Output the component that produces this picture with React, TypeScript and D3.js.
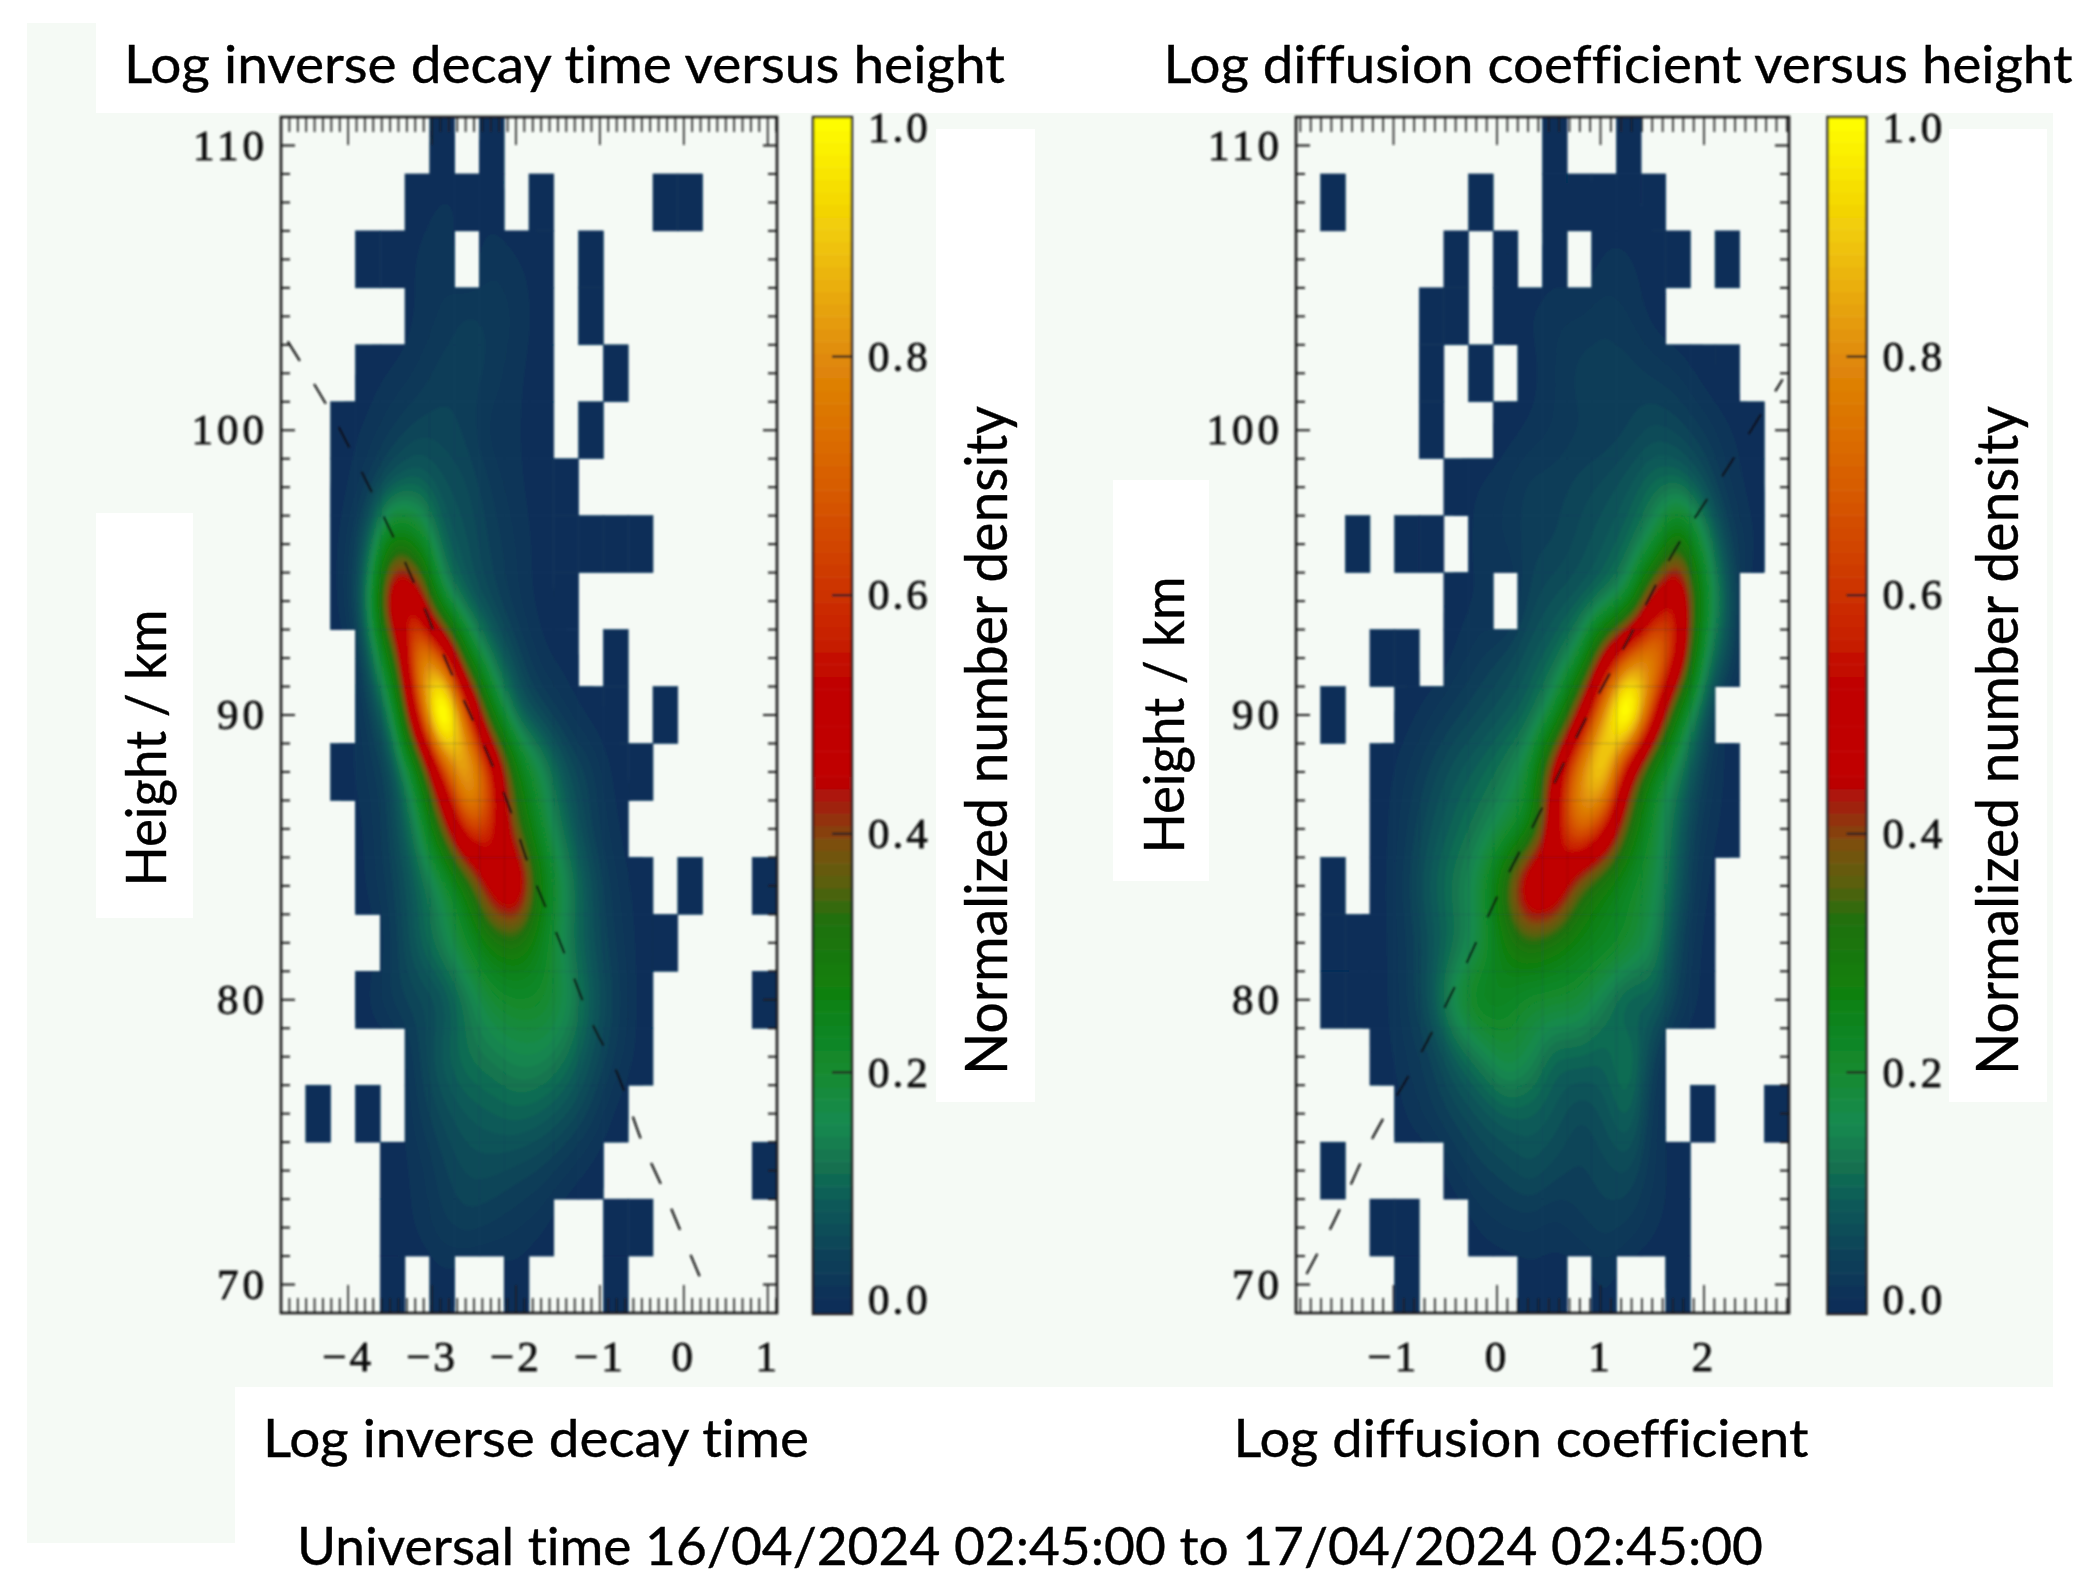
import React from "react";
import * as d3 from "d3";

const heightTicks = [70, 80, 90, 100, 110];
const decayTicks = [-4, -3, -2, -1, 0, 1];
const diffusionTicks = [-1, 0, 1, 2];
const barTicks = [0, 0.2, 0.4, 0.6, 0.8, 1];

const decayMask = [
  "......#.#...........",
  ".....####.#....##...",
  "...####.###.#.......",
  ".....######.#.......",
  "...########..#......",
  "..#########.#.......",
  "..##########........",
  "..#############.....",
  "..##########........",
  "...#########.#......",
  "...###########.#....",
  "..#############.....",
  "...###########......",
  "...############.#..#",
  "....############....",
  "...############....#",
  ".....##########.....",
  ".#.#.#########......",
  "....#########......#",
  "....#######..##.....",
  "....#.#..#...#......",
];

const diffusionMask = [
  "..........#..#......",
  ".#.....#..#####.....",
  "......#.#.#.####.#..",
  ".....##.#######.....",
  ".....#.#.#########..",
  ".....#..###########.",
  "......#############.",
  "..#.##.############.",
  "......##.#########..",
  "...##.############..",
  ".#..#############...",
  "...###############..",
  "...###############..",
  ".#.##############...",
  ".################...",
  ".################...",
  "...############.....",
  "....###########.#..#",
  ".#....##########....",
  "...##..#########....",
  "....#....##.#..#....",
];

const decayDensity = [
  [0,0,0,0,0,0,.01,0,.01,0,0,0,0,0,0,0,0,0,0,0],
  [0,0,0,0,0,.01,.02,.02,.01,0,0,0,0,0,0,0,0,0,0,0],
  [0,0,0,0,.01,.02,.03,0,.03,.02,.01,0,0,0,0,0,0,0,0,0],
  [0,0,0,0,0,.02,.03,.05,.04,.03,.01,0,0,0,0,0,0,0,0,0],
  [0,0,0,.01,.02,.03,.05,.05,.04,.02,.01,0,0,0,0,0,0,0,0,0],
  [0,0,.01,.02,.04,.06,.06,.05,.02,.02,.01,0,0,0,0,0,0,0,0,0],
  [0,0,.01,.04,.09,.11,.08,.07,.04,.02,.01,0,0,0,0,0,0,0,0,0],
  [0,0,.02,.09,.32,.26,.1,.08,.05,.03,.01,0,0,0,0,0,0,0,0,0],
  [0,0,.02,.12,.6,.54,.17,.09,.06,.03,.01,0,0,0,0,0,0,0,0,0],
  [0,0,0,.07,.3,.76,.68,.26,.12,.06,.02,.01,0,0,0,0,0,0,0,0],
  [0,0,0,.04,.13,.6,1,.66,.26,.1,.06,.03,.01,0,0,0,0,0,0,0],
  [0,0,.01,.03,.06,.22,.6,.8,.62,.28,.17,.08,.05,.01,0,0,0,0,0,0],
  [0,0,0,.02,.06,.14,.36,.64,.6,.36,.2,.11,.05,.02,0,0,0,0,0,0],
  [0,0,0,.02,.05,.1,.16,.28,.5,.58,.28,.16,.08,.03,.01,0,0,0,0,0],
  [0,0,0,0,.04,.1,.15,.22,.29,.31,.25,.14,.08,.04,.01,0,0,0,0,0],
  [0,0,0,.02,.05,.06,.07,.13,.2,.22,.22,.18,.1,.05,.01,0,0,0,0,0],
  [0,0,0,0,0,.05,.1,.13,.14,.16,.16,.13,.08,.04,.01,0,0,0,0,0],
  [0,0,0,0,0,.04,.07,.09,.1,.11,.1,.08,.05,.01,0,0,0,0,0,0],
  [0,0,0,0,.01,.02,.05,.07,.07,.06,.05,.03,.01,0,0,0,0,0,0,0],
  [0,0,0,0,.01,.02,.04,.05,.04,.03,.02,0,0,.01,0,0,0,0,0,0],
  [0,0,0,0,0,0,.01,0,0,.01,0,0,0,0,0,0,0,0,0,0],
];

const diffusionDensity = [
  [0,0,0,0,0,0,0,0,0,0,0,0,0,0,0,0,0,0,0,0],
  [0,0,0,0,0,0,0,0,0,0,.01,.01,.01,.01,0,0,0,0,0,0],
  [0,0,0,0,0,0,0,0,.01,0,.01,0,.02,.02,.01,0,0,0,0,0],
  [0,0,0,0,0,0,.01,0,.01,.02,.03,.03,.04,.03,.01,0,0,0,0,0],
  [0,0,0,0,0,0,0,0,0,.01,.03,.05,.05,.05,.04,.03,.01,0,0,0],
  [0,0,0,0,0,0,0,0,.01,.02,.03,.04,.04,.05,.07,.06,.04,.02,.01,0],
  [0,0,0,0,0,0,.01,.02,.03,.05,.05,.06,.07,.09,.12,.12,.08,.03,.01,0],
  [0,0,0,0,0,0,0,.03,.03,.05,.05,.07,.09,.11,.17,.36,.18,.06,.02,0],
  [0,0,0,0,0,0,.01,.02,0,.06,.08,.09,.11,.18,.5,.6,.25,.09,0,0],
  [0,0,0,0,0,0,.02,.04,.06,.09,.11,.18,.48,.7,.76,.58,.16,.07,0,0],
  [0,0,0,0,.01,.03,.05,.07,.09,.11,.19,.46,.76,1,.6,.23,.09,0,0,0],
  [0,0,0,.01,.03,.06,.09,.11,.14,.2,.5,.74,.86,.46,.22,.14,.05,.01,0,0],
  [0,0,0,.01,.04,.08,.11,.14,.18,.24,.52,.72,.58,.32,.2,.1,.03,.01,0,0],
  [0,0,0,.01,.05,.1,.14,.19,.36,.58,.56,.34,.26,.22,.18,.09,.02,0,0,0],
  [0,0,.01,.01,.04,.08,.12,.17,.29,.33,.29,.26,.25,.22,.16,.06,.01,0,0,0],
  [0,0,.01,.01,.04,.09,.2,.27,.24,.2,.21,.2,.14,.08,.11,.05,.01,0,0,0],
  [0,0,0,.01,.03,.05,.1,.14,.2,.17,.1,.11,.1,.15,.05,0,0,0,0,0],
  [0,0,0,0,.02,.04,.06,.08,.1,.1,.09,.06,.08,.12,.03,0,0,0,0,0],
  [0,0,0,0,0,0,.03,.05,.06,.08,.06,.05,.06,.07,.03,.01,0,0,0,0],
  [0,0,0,0,0,0,0,.02,.03,.03,.02,.04,.05,.04,.02,.01,0,0,0,0],
  [0,0,0,0,0,0,0,0,0,.01,.01,0,.02,0,0,.01,0,0,0,0],
];

// log value, height in km
const decayFit = [
  [-4.72,103.12],[-4.34,101.3],[-4.13,100.21],[-3.37,95.68],[-2.74,91.26],[-2.53,89.93],[-2.09,86.84],
  [-1.85,84.74],[-1.49,82.14],[-1.09,79.16],[-0.81,77.54],[-0.49,74.95],[-0.25,73.37],[-0.05,71.96],[0.23,70],
];
const diffusionFit = [
  [-1.84,70.37],[-1.58,72.18],[-1.2,75.16],[-0.79,77.75],[-0.34,80.95],[0.07,84.14],[0.46,86.91],
  [0.85,89.82],[1.28,92.74],[1.7,95.68],[2.25,98.81],[2.76,101.79],
];

const colourValues = [0, 0.005, 0.046, 0.09, 0.12, 0.157, 0.2, 0.268, 0.327, 0.357, 0.39, 0.423, 0.446, 0.527, 0.565, 0.7, 0.8, 0.9, 1];
const colourStops = ["#082e58","#082e58","#0b4058","#0f5a58","#127050","#148a50","#128a30","#108010","#1f7010","#5a6010","#7a5010","#a02010","#c00000","#c00000","#c82000","#d86000","#e08a08","#f0c808","#ffff00"];

const colour = d3.scaleLinear<string>().domain(colourValues).range(colourStops);
const thresholds = d3.range(0.006, 1.0, 0.012);
const barSteps = d3.range(0, 1.0001, 1 / 96);

const heightScale = d3.scaleLinear().domain([69, 111]).range([1313, 117]);
const barScale = d3.scaleLinear().domain([0, 1]).range([1311, 118]);

const INK = "#1c1c1c";
const PALE = "#f5faf5";
const TEXT = "Lato, 'Open Sans', sans-serif";
const AXIS_FONT = "'Liberation Serif', serif";
const FINE = 6;

// Resamples the read-off grid and softens it, as the original image display does.
function softened(density: number[][]) {
  const rows = density.length;
  const cols = density[0].length;
  const width = cols * FINE;
  const height = rows * FINE;
  const data = new Float64Array(width * height);
  for (let j = 0; j < height; j++) {
    const v = Math.min(rows - 1.0001, Math.max(0, (j + 0.5) / FINE - 0.5));
    const r = Math.floor(v);
    for (let i = 0; i < width; i++) {
      const u = Math.min(cols - 1.0001, Math.max(0, (i + 0.5) / FINE - 0.5));
      const c = Math.floor(u);
      const a = d3.interpolateNumber(density[r][c], density[r][c + 1])(u - c);
      const b = d3.interpolateNumber(density[r + 1][c], density[r + 1][c + 1])(u - c);
      data[j * width + i] = d3.interpolateNumber(a, b)(v - r);
    }
  }
  d3.blur2({ data, width, height }, 1.5, 1.5);
  const top = d3.max(data) as number;
  const knee = 0.55;
  const out = Array.from(data, (d) => (d <= knee ? d : knee + ((d - knee) * (1 - knee)) / (top - knee)));
  return { out, width, height };
}

type PanelProps = {
  id: string;
  x0: number;
  x1: number;
  xDomain: [number, number];
  xTicks: number[];
  mask: string[];
  density: number[][];
  fit: number[][];
  labelRight: number;
  barX: number;
};

function Panel({ id, x0, x1, xDomain, xTicks, mask, density, fit, labelRight, barX }: PanelProps) {
  const cols = 20;
  const rows = mask.length;
  const xScale = d3.scaleLinear().domain(xDomain).range([x0, x1]);
  const colEdge = d3.scaleLinear().domain([0, cols]).range([x0, x1]);
  const rowEdge = d3.scaleLinear().domain([0, rows]).range([117, 1313]);
  const { out, width, height } = softened(density);
  const bands = d3.contours().size([width, height]).thresholds(thresholds)(out);
  const projection = d3.geoTransform({
    point(x: number, y: number) {
      (this as any).stream.point(colEdge(x / FINE), rowEdge(y / FINE));
    },
  });
  const path = d3.geoPath(projection as any);
  const line = d3
    .line<number[]>()
    .x((d) => xScale(d[0]))
    .y((d) => heightScale(d[1]))
    .curve(d3.curveCatmullRom);
  const cells: { r: number; c: number }[] = [];
  mask.forEach((m, r) => m.split("").forEach((ch, c) => { if (ch === "#") cells.push({ r, c }); }));
  const rectOf = (d: { r: number; c: number }) => ({
    x: colEdge(d.c),
    y: rowEdge(d.r),
    width: colEdge(d.c + 1) - colEdge(d.c),
    height: rowEdge(d.r + 1) - rowEdge(d.r),
  });
  const minorX = d3.range(Math.ceil(xDomain[0] * 10), Math.floor(xDomain[1] * 10) + 1).map((v) => v / 10);
  const minorY = d3.range(70, 111);

  return (
    <g filter="url(#soft)">
      <clipPath id={`cells-${id}`}>
        {cells.map((d, i) => <rect key={i} {...rectOf(d)} />)}
      </clipPath>
      {cells.map((d, i) => <rect key={i} {...rectOf(d)} fill={colourStops[0]} stroke={colourStops[0]} strokeWidth={0.6} />)}
      <g clipPath={`url(#cells-${id})`}>
        {bands.map((b, i) => <path key={i} d={path(b as any) || ""} fill={colour(b.value)} />)}
      </g>
      <path d={line(fit as any) || ""} fill="none" stroke="#111" strokeWidth={2.2} strokeDasharray="23 27" />

      {minorY.map((h) => {
        const len = h % 10 === 0 ? 14 : 9;
        const y = heightScale(h);
        return (
          <g key={h} stroke={INK} strokeWidth={2}>
            <line x1={x0} x2={x0 + len} y1={y} y2={y} />
            <line x1={x1} x2={x1 - len} y1={y} y2={y} />
          </g>
        );
      })}
      {minorX.map((v) => {
        const major = Math.abs(v - Math.round(v)) < 1e-6;
        const len = major ? 28 : 15;
        const x = xScale(v);
        return (
          <g key={v} stroke={INK} strokeWidth={1.6}>
            <line x1={x} x2={x} y1={117} y2={117 + len} />
            <line x1={x} x2={x} y1={1313} y2={1313 - len} />
          </g>
        );
      })}
      <rect x={x0} y={117} width={x1 - x0} height={1196} fill="none" stroke={INK} strokeWidth={2.6} />

      {heightTicks.map((h) => (
        <text key={h} x={labelRight} y={heightScale(h)} dy="0.33em" textAnchor="end" fontFamily={AXIS_FONT} fontSize={43} letterSpacing={4} fill="#111" stroke="#111" strokeWidth={0.8}>{h}</text>
      ))}
      {xTicks.map((v) => (
        <text key={v} x={xScale(v)} y={1371} textAnchor="middle" fontFamily={AXIS_FONT} fontSize={43} letterSpacing={3} fill="#111" stroke="#111" strokeWidth={0.8}>
          {v < 0 ? `\u2212${-v}` : v}
        </text>
      ))}

      {barSteps.slice(0, -1).map((v, i) => (
        <rect key={i} x={barX} width={39}
          y={i === barSteps.length - 2 ? 117 : barScale(barSteps[i + 1]) - 0.5}
          height={(i === 0 ? 1314 : barScale(v)) - (i === barSteps.length - 2 ? 117 : barScale(barSteps[i + 1])) + 0.5}
          fill={colour(v + 1 / 192)} />
      ))}
      <rect x={barX} y={117} width={39} height={1197} fill="none" stroke="#222" strokeWidth={2.4} />
      {barTicks.map((t) => {
        const edge = t === 0 || t === 1;
        const y = barScale(t);
        const labelY = t === 1 ? 128 : t === 0 ? 1300 : y;
        return (
          <g key={t}>
            {!edge && <line x1={barX + 39} x2={barX + 19} y1={y} y2={y} stroke="#222" strokeWidth={2.2} />}
            <text x={barX + 55} y={labelY} dy="0.33em" fontFamily={AXIS_FONT} fontSize={43} letterSpacing={3} fill="#111" stroke="#111" strokeWidth={0.8}>{t.toFixed(1)}</text>
          </g>
        );
      })}
    </g>
  );
}

function Label({ x, y, len, size = 52, rotate = false, children }: any) {
  return (
    <text
      transform={`translate(${x},${y})${rotate ? " rotate(-90)" : ""}`}
      fontFamily={TEXT}
      fontSize={size}
      fill="#000"
      stroke="#000"
      strokeWidth={0.4}
      textLength={len}
      lengthAdjust="spacingAndGlyphs"
      style={{ fontVariantLigatures: "none" }}
    >
      {children}
    </text>
  );
}

export default function App() {
  return (
    <svg width={2085} height={1592} style={{ position: "absolute", left: 0, top: 0, display: "block" }}>
      <defs>
        <filter id="soft" x="0" y="0" width="2085" height="1592" filterUnits="userSpaceOnUse">
          <feGaussianBlur stdDeviation="0.8" />
        </filter>
      </defs>
      <rect width={2085} height={1592} fill="#fff" />
      <rect x={27} y={23} width={69} height={100} fill={PALE} />
      <rect x={27} y={113} width={2026} height={1274} fill={PALE} />
      <rect x={27} y={1387} width={208} height={156} fill={PALE} />
      <rect x={96} y={513} width={97} height={405} fill="#fff" />
      <rect x={1113} y={480} width={96} height={401} fill="#fff" />
      <rect x={936} y={129} width={99} height={973} fill="#fff" />
      <rect x={1949} y={129} width={98} height={973} fill="#fff" />

      <Panel id="decay" x0={281} x1={777} xDomain={[-4.8, 1.111]} xTicks={decayTicks} mask={decayMask} density={decayDensity} fit={decayFit} labelRight={268} barX={813} />
      <Panel id="diffusion" x0={1296} x1={1789} xDomain={[-1.942, 2.821]} xTicks={diffusionTicks} mask={diffusionMask} density={diffusionDensity} fit={diffusionFit} labelRight={1283} barX={1827.5} />

      <Label x={124} y={83} len={881}>Log inverse decay time versus height</Label>
      <Label x={1163.5} y={83} len={909}>Log diffusion coefficient versus height</Label>
      <Label x={263} y={1456.5} len={546}>Log inverse decay time</Label>
      <Label x={1233.5} y={1456.5} len={575}>Log diffusion coefficient</Label>
      <Label x={297} y={1565} len={1466}>Universal time 16/04/2024 02:45:00 to 17/04/2024 02:45:00</Label>
      <Label x={165.5} y={886.6} len={277} size={56} rotate>Height / km</Label>
      <Label x={1184} y={853.6} len={277} size={56} rotate>Height / km</Label>
      <Label x={1007} y={1075} len={669} size={58} rotate>Normalized number density</Label>
      <Label x={2018} y={1075} len={669} size={58} rotate>Normalized number density</Label>
    </svg>
  );
}
